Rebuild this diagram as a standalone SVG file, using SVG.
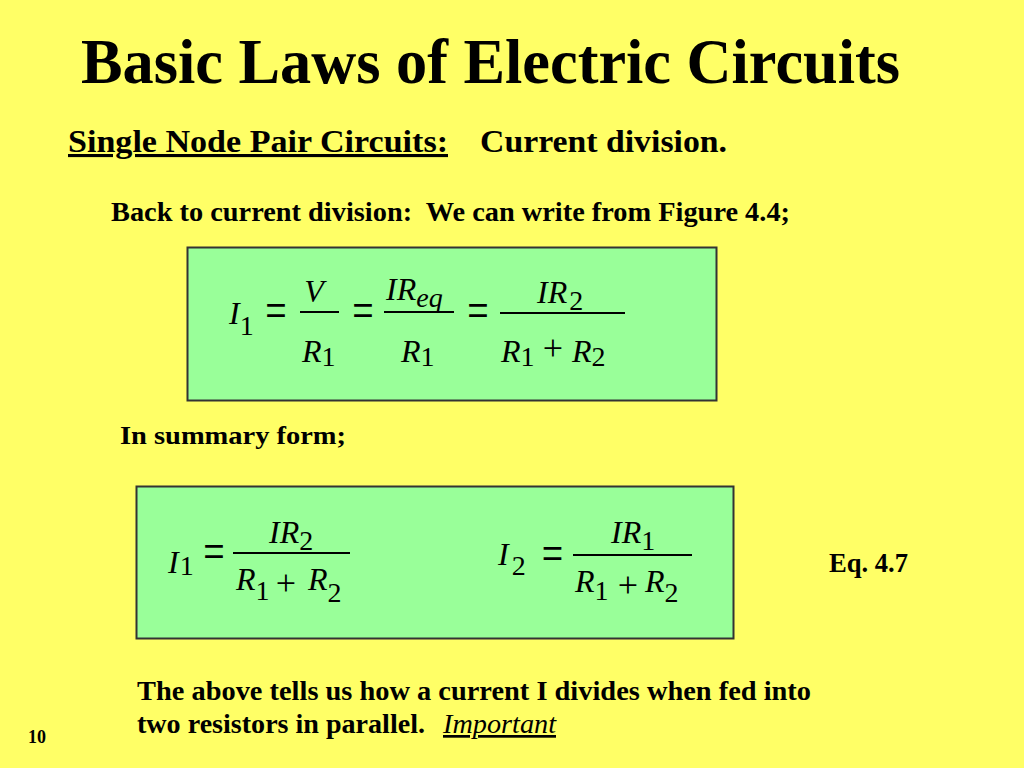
<svg xmlns="http://www.w3.org/2000/svg" width="1024" height="768" viewBox="0 0 1024 768">
<style>
.t{font-family:"Liberation Serif","Times New Roman",serif;font-weight:bold;fill:#000}
.m{font-family:"Liberation Serif","Times New Roman",serif;font-style:italic;font-size:32px;fill:#000}
.s{font-style:normal;font-size:28px}
.si{font-style:italic;font-size:28px}
.o{font-family:"Liberation Serif","Times New Roman",serif;font-size:38px;fill:#000;text-anchor:middle}
.p{font-family:"Liberation Serif","Times New Roman",serif;font-size:36px;fill:#000;text-anchor:middle}
.box{fill:#99FF99;stroke:#333;stroke-width:2}
.bar{stroke:#000;stroke-width:1.8}
</style>
<rect width="1024" height="768" fill="#FFFF66"/>
<g id="title">
<text class="t" x="81" y="83" font-size="64" textLength="819" lengthAdjust="spacingAndGlyphs">Basic Laws of Electric Circuits</text>
</g>
<g id="subtitle">
<text class="t" x="68" y="152" font-size="31" text-decoration="underline" textLength="380" lengthAdjust="spacingAndGlyphs">Single Node Pair Circuits:</text>
<text class="t" x="480" y="152" font-size="31" textLength="247" lengthAdjust="spacingAndGlyphs">Current division.</text>
</g>
<g id="intro">
<text class="t" x="111" y="221" font-size="27" xml:space="preserve" textLength="679" lengthAdjust="spacingAndGlyphs">Back to current division:  We can write from Figure 4.4;</text>
</g>
<g id="equation-box-1">
<rect class="box" x="187.5" y="247.5" width="529" height="153"/>
<text class="m" x="229" y="324">I<tspan class="s" dy="11">1</tspan></text>
<text class="o" transform="translate(276,328) scale(1,1.4)">=</text>
<text class="m" x="314" y="302" text-anchor="middle">V</text>
<line class="bar" x1="300" y1="312" x2="339" y2="312"/>
<text class="m" x="302" y="362">R<tspan class="s" dy="4">1</tspan></text>
<text class="o" transform="translate(363,328) scale(1,1.4)">=</text>
<text class="m" x="386" y="300">IR<tspan class="si" dy="7">eq</tspan></text>
<line class="bar" x1="384" y1="312" x2="454" y2="312"/>
<text class="m" x="401" y="362">R<tspan class="s" dy="4">1</tspan></text>
<text class="o" transform="translate(478,328) scale(1,1.4)">=</text>
<text class="m" x="537" y="303">IR<tspan class="s" dx="2" dy="7">2</tspan></text>
<line class="bar" x1="500" y1="313" x2="625" y2="313"/>
<text class="m" x="501" y="362">R<tspan class="s" dy="4">1</tspan></text>
<text class="p" x="553" y="360">+</text>
<text class="m" x="572" y="362">R<tspan class="s" dy="4">2</tspan></text>
</g>
<g id="summary-label">
<text class="t" x="120" y="444" font-size="26" textLength="226" lengthAdjust="spacingAndGlyphs">In summary form;</text>
</g>
<g id="equation-box-2">
<rect class="box" x="136.5" y="486.5" width="597" height="152"/>
<text class="m" x="168" y="573">I<tspan class="s" dx="1" dy="2">1</tspan></text>
<text class="o" transform="translate(214,569) scale(1,1.4)">=</text>
<text class="m" x="269" y="543">IR<tspan class="s" dy="7">2</tspan></text>
<line class="bar" x1="233" y1="553" x2="350" y2="553"/>
<text class="m" x="236" y="590">R<tspan class="s" dy="10">1</tspan></text>
<text class="p" x="286" y="595">+</text>
<text class="m" x="308" y="590">R<tspan class="s" dy="12">2</tspan></text>
<text class="m" x="498" y="565">I<tspan class="s" dx="3" dy="10">2</tspan></text>
<text class="o" transform="translate(552.5,571) scale(1,1.4)">=</text>
<text class="m" x="611" y="543">IR<tspan class="s" dy="7">1</tspan></text>
<line class="bar" x1="573" y1="555" x2="692" y2="555"/>
<text class="m" x="575" y="592">R<tspan class="s" dy="8">1</tspan></text>
<text class="p" x="628" y="597">+</text>
<text class="m" x="645" y="592">R<tspan class="s" dy="10">2</tspan></text>
</g>
<g id="eq-label">
<text class="t" x="829" y="572" font-size="27" textLength="79" lengthAdjust="spacingAndGlyphs">Eq. 4.7</text>
</g>
<g id="conclusion">
<text class="t" x="137" y="700" font-size="27" textLength="674" lengthAdjust="spacingAndGlyphs">The above tells us how a current I divides when fed into</text>
<text class="t" x="137" y="733" font-size="27" textLength="288" lengthAdjust="spacingAndGlyphs">two resistors in parallel.</text>
<text x="443" y="733" font-family="Liberation Serif, Times New Roman, serif" font-style="italic" font-size="27" text-decoration="underline" textLength="113" lengthAdjust="spacingAndGlyphs">Important</text>
</g>
<g id="page-number">
<text class="t" x="28" y="743" font-size="18" textLength="18" lengthAdjust="spacingAndGlyphs">10</text>
</g>
<g id="connectors"/>
</svg>
